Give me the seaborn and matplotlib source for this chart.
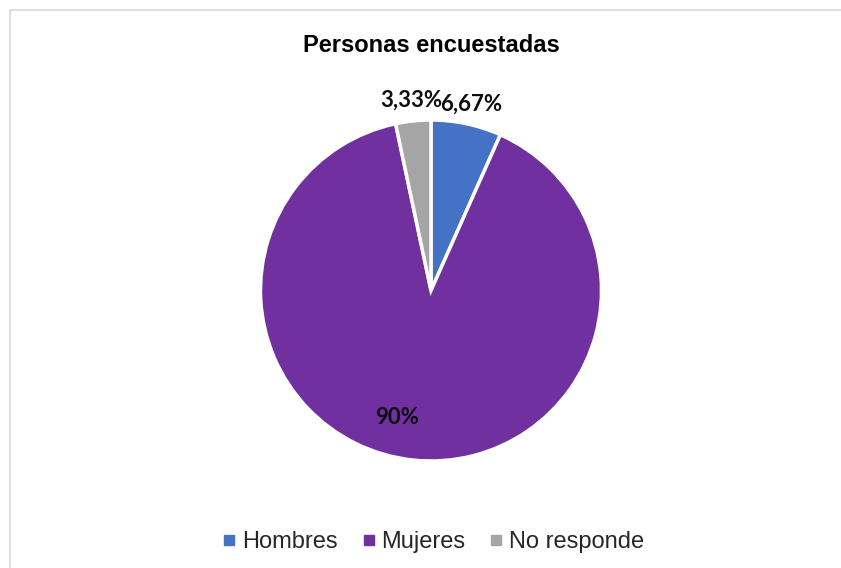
import numpy as np
import matplotlib
matplotlib.use("Agg")
import matplotlib.pyplot as plt
import seaborn as sns
from matplotlib.lines import Line2D

categorias = ["Hombres", "Mujeres", "No responde"]
porcentajes = [6.67, 90.0, 3.33]
colores = ["#4472C4", "#7030A0", "#A5A5A5"]
titulo = "Personas encuestadas"


def fmt_pct(v):
    s = f"{v:.2f}".replace(".", ",")
    if s.endswith(",00"):
        s = s[:-3]
    return s + "%"


sns.set_theme(style="white")
plt.rcParams["font.family"] = ["Liberation Sans", "DejaVu Sans"]

W, H = 841, 568
fig = plt.figure(figsize=(W / 100, H / 100), dpi=100)
fig.patch.set_facecolor("white")

# borde del area del grafico (solo arriba e izquierda visibles)
fig.add_artist(Line2D([10 / W, 1], [1 - 10 / H, 1 - 10 / H], color="#D9D9D9", lw=1.2))
fig.add_artist(Line2D([10 / W, 10 / W], [0, 1 - 10 / H], color="#D9D9D9", lw=1.2))

cx, cy, r = 431, 290.5, 170.5
ax = fig.add_axes([(cx - r) / W, (H - cy - r) / H, 2 * r / W, 2 * r / H])
wedges, _ = ax.pie(porcentajes, colors=colores, startangle=90, counterclock=False,
                   wedgeprops=dict(edgecolor="white", linewidth=2.5))
ax.set_xlim(-1, 1)
ax.set_ylim(-1, 1)
ax.axis("off")

# etiquetas de datos
for w, v in zip(wedges, porcentajes):
    ang = np.deg2rad((w.theta1 + w.theta2) / 2)
    if v > 50:
        ang -= np.deg2rad(9)
        d = 0.77
    else:
        d = 1.12
    ax.text(d * np.cos(ang), d * np.sin(ang), fmt_pct(v), ha="center", va="center",
            fontsize=16, fontweight="bold", family=["Lato", "DejaVu Sans"],
            color="#0d0d0d", clip_on=False)

fig.text(cx / W, 1 - 45 / H, titulo, ha="center", va="center",
         fontsize=17, fontweight="bold", color="black")

handles = [Line2D([], [], marker="s", ls="", color=c, markersize=6.5) for c in colores]
fig.legend(handles, categorias, loc="center", bbox_to_anchor=(cx / W, 1 - 542 / H),
           ncol=3, frameon=False, fontsize=17, handletextpad=0.05, columnspacing=0.8,
           handlelength=1.0)

fig.savefig("out.png", dpi=100)
